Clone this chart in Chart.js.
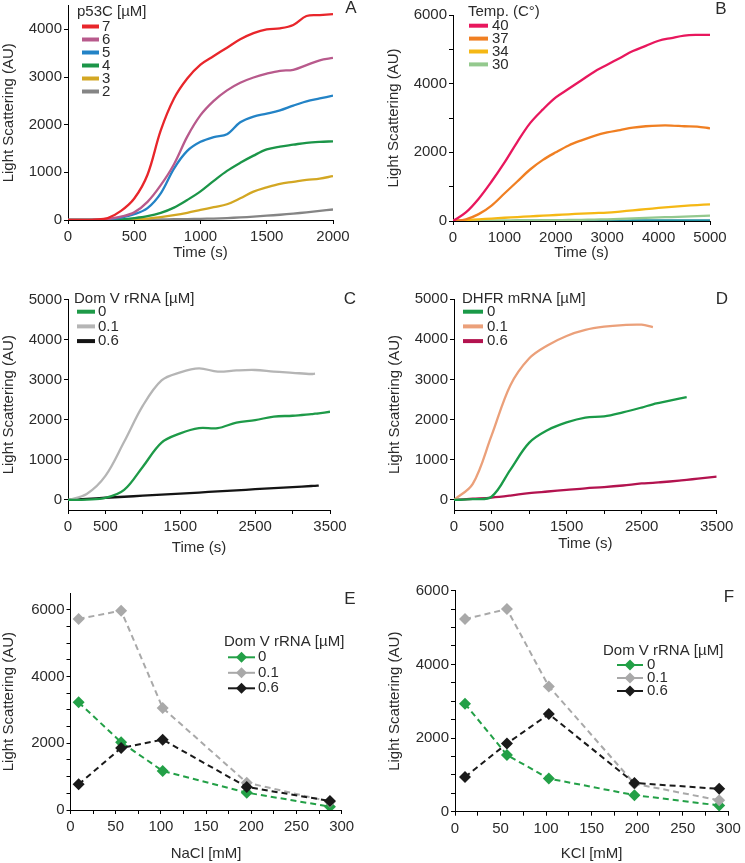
<!DOCTYPE html>
<html>
<head>
<meta charset="utf-8">
<script src="https://cdn.jsdelivr.net/npm/chart.js@4.4.0/dist/chart.umd.min.js"></script>
<style>
  html, body { margin: 0; padding: 0; background: #fff; }
  #fig { position: relative; width: 745px; height: 863px; overflow: hidden; background: #fff; }
  #fig canvas { position: absolute; }
</style>
</head>
<body>
<div id="fig">
  <canvas id="pA"></canvas>
  <canvas id="pB"></canvas>
  <canvas id="pC"></canvas>
  <canvas id="pD"></canvas>
  <canvas id="pE"></canvas>
  <canvas id="pF"></canvas>
</div>
<script>
// --- A: p53C concentration series ---
const aTime = [0,100,200,300,400,500,600,700,800,900,1000,1100,1200,1300,1400,1500,1600,1700,1800,1900,2000];
const aP7 = [0,0,10,40,190,450,950,1880,2550,2970,3260,3440,3615,3790,3920,4000,4020,4090,4280,4300,4320];
const aP6 = [0,0,5,20,70,160,380,730,1170,1750,2200,2500,2720,2880,2990,3070,3130,3150,3250,3350,3400];
const aP5 = [0,0,3,15,50,120,250,560,1080,1450,1640,1740,1800,2050,2170,2230,2300,2400,2490,2550,2610];
const aP4 = [0,0,2,5,15,40,80,150,260,420,600,820,1030,1200,1350,1480,1540,1580,1620,1640,1650];
const aP3 = [0,0,0,2,5,15,30,60,100,150,210,270,330,455,595,685,760,800,840,870,920];
const aP2 = [0,0,0,0,0,5,8,12,16,20,25,30,40,55,70,90,110,135,160,190,220];
const aXTicks = [0,500,1000,1500,2000];
const aYTicks = [0,1000,2000,3000,4000];

// --- B: temperature series ---
const bTime = [0,250,500,750,1000,1250,1500,1750,2000,2250,2500,2750,3000,3250,3500,3750,4000,4250,4500,4750,5000];
const bT40 = [0,250,650,1150,1700,2300,2850,3250,3600,3850,4100,4350,4550,4750,4950,5100,5250,5330,5400,5420,5420];
const bT37 = [0,50,200,450,800,1150,1500,1780,2000,2200,2350,2480,2580,2650,2720,2760,2780,2780,2760,2750,2700];
const bT34 = [0,25,50,70,95,115,135,155,175,195,215,230,245,275,310,345,380,410,440,465,485];
const bT30 = [0,5,8,10,12,15,18,22,26,30,35,40,50,60,75,90,105,115,125,140,155];
const bBase = [0,3,5,5,6,7,8,9,10,10,11,12,13,13,14,15,16,16,17,18,18];
const bXTicks = [0,500,1000,1500,2000,2500,3000,3500,4000,4500,5000];
const bXLabels = [0,1000,2000,3000,4000,5000];
const bYTicks = [0,1000,2000,3000,4000,5000,6000];
const bYLabels = [0,2000,4000,6000];

// --- C: Dom V rRNA ---
const cTime = [0,250,500,750,1000,1250,1500,1750,2000,2250,2500,2750,3000,3250,3300,3350,3500];
const cR0  = [0,10,50,250,830,1430,1660,1790,1790,1930,1990,2080,2100,2140,2150,2160,2200];
const cR01 = [0,150,600,1450,2350,2980,3180,3280,3200,3230,3240,3200,3170,3140,3150,null,null];
const cR06 = [0,27,55,80,107,135,160,185,215,240,268,295,320,348,352,358,null];

// --- D: DHFR mRNA ---
const dTime = [0,250,500,750,1000,1250,1500,1750,2000,2250,2500,2650,2750,3000,3100,3250,3500];
const dR0  = [0,20,80,750,1420,1740,1930,2050,2080,2180,2300,2380,2420,2520,2560,null,null];
const dR01 = [0,400,1600,2850,3520,3850,4080,4230,4310,4350,4360,4300,null,null,null,null,null];
const dR06 = [0,30,60,110,170,210,250,290,320,360,410,425,440,480,500,530,580];
const cdXTicks = [0,500,1000,1500,2000,2500,3000,3500];
const cdXLabels = [0,500,1500,2500,3500];
const cdYTicks = [0,1000,2000,3000,4000,5000];

// --- E: NaCl ---
const eSalt = [9,56,102,195,287];
const eR0  = [3230,2030,1170,520,100];
const eR01 = [5730,5980,3060,820,250];
const eR06 = [770,1860,2110,690,270];

// --- F: KCl ---
const fSalt = [11,57,103,197,290];
const fR0  = [2930,1540,900,450,170];
const fR01 = [5230,5500,3400,760,310];
const fR06 = [940,1850,2650,780,620];
const efXTicks = [0,25,50,75,100,125,150,175,200,225,250,275,300];
const efXLabels = [0,50,100,150,200,250,300];
const efYTicks = [0,500,1000,1500,2000,2500,3000,3500,4000,4500,5000,5500,6000];
const efYLabels = [0,2000,4000,6000];

const FONT = '"Liberation Sans", Arial, Helvetica, sans-serif';
const INK = '#2b2b2b';

const pts = (xs, ys) => xs.map((x, i) => ({ x: x, y: ys[i] }));

const trace = (label, color, xs, ys) => ({
    label: label,
    data: pts(xs, ys),
    borderColor: color,
    backgroundColor: color,
    borderWidth: 2.3,
    pointRadius: 0,
    tension: 0.35,
    spanGaps: false
});

const dashed = (label, color, xs, ys, order) => ({
    label: label,
    data: pts(xs, ys),
    borderColor: color,
    backgroundColor: color,
    borderWidth: 2,
    borderDash: [6, 4],
    pointStyle: 'rectRot',
    pointRadius: 6,
    pointBorderWidth: 0,
    pointBackgroundColor: color,
    order: order
});

const axis = (pos, a, size) => ({
    type: 'linear',
    position: pos,
    min: a.min,
    max: a.max,
    border: { display: true, color: '#000', width: 1 },
    grid: { display: true, drawOnChartArea: false, drawTicks: true, tickLength: 4, color: '#000', lineWidth: 1 },
    ticks: {
        autoSkip: false,
        maxRotation: 0,
        padding: pos === 'left' ? 2 : 4,
        color: INK,
        font: { family: FONT, size: 15 },
        callback: (v) => (a.labels || a.ticks).includes(v) ? String(v) : ''
    },
    title: { display: true, text: a.title, color: INK, font: { family: FONT, size: 15 }, padding: 0 },
    afterBuildTicks: (ax) => { ax.ticks = a.ticks.map(v => ({ value: v })); },
    afterFit: (ax) => {
        if (pos === 'left') ax.width = size; else ax.height = size;
        ax.paddingTop = 0; ax.paddingBottom = 0; ax.paddingLeft = 0; ax.paddingRight = 0;
    }
});

// legend + panel letter, drawn on top of each panel
const panelDeco = {
    id: 'panelDeco',
    afterDraw(chart, args, o) {
        const ctx = chart.ctx;
        const lg = o.legend;
        ctx.save();
        ctx.translate(-o.left, -o.top);
        ctx.fillStyle = INK;
        ctx.textBaseline = 'middle';
        ctx.textAlign = 'left';
        ctx.font = '15px ' + FONT;
        ctx.fillText(lg.title, lg.x, lg.y);
        let row = 0;
        chart.data.datasets.forEach((ds) => {
            if (!ds.label) return;
            const y = lg.rowStart + row * lg.row;
            ctx.strokeStyle = ds.borderColor;
            ctx.lineWidth = lg.markers ? 2 : 4;
            ctx.beginPath();
            ctx.moveTo(lg.x0, y);
            ctx.lineTo(lg.x1, y);
            ctx.stroke();
            if (lg.markers) {
                const cx = (lg.x0 + lg.x1) / 2;
                ctx.fillStyle = ds.borderColor;
                ctx.beginPath();
                ctx.moveTo(cx, y - 5.5);
                ctx.lineTo(cx + 5.5, y);
                ctx.lineTo(cx, y + 5.5);
                ctx.lineTo(cx - 5.5, y);
                ctx.closePath();
                ctx.fill();
            }
            ctx.fillStyle = INK;
            ctx.fillText(ds.label, lg.tx, y);
            row++;
        });
        ctx.font = '17px ' + FONT;
        ctx.textAlign = 'center';
        ctx.fillText(o.letter.text, o.letter.x, o.letter.y);
        ctx.restore();
    }
};

const makePanel = (p) => {
    const cv = document.getElementById(p.id);
    cv.width = p.width;
    cv.height = p.height;
    cv.style.left = p.left + 'px';
    cv.style.top = p.top + 'px';
    return new Chart(cv, {
        type: 'line',
        data: { datasets: p.datasets },
        options: {
            responsive: false,
            animation: false,
            devicePixelRatio: 1,
            events: [],
            layout: { padding: p.pad },
            plugins: {
                legend: { display: false },
                tooltip: { enabled: false },
                panelDeco: { legend: p.legend, letter: p.letter, left: p.left, top: p.top }
            },
            scales: {
                x: axis('bottom', p.x, p.xHeight),
                y: axis('left', p.y, p.yWidth)
            }
        },
        plugins: [panelDeco]
    });
};

document.addEventListener('DOMContentLoaded', () => {
    makePanel({
        id: 'pA', left: 0, top: 0, width: 372, height: 262,
        pad: { left: 0, top: 5.5, right: 39, bottom: 0 }, yWidth: 68, xHeight: 42,
        x: { min: 0, max: 2000, ticks: aXTicks, title: 'Time (s)' },
        y: { min: 0, max: 4500, ticks: aYTicks, title: 'Light Scattering (AU)' },
        datasets: [
            trace('7', '#e8262b', aTime, aP7),
            trace('6', '#b85a8c', aTime, aP6),
            trace('5', '#2383c6', aTime, aP5),
            trace('4', '#1b9548', aTime, aP4),
            trace('3', '#d3a723', aTime, aP3),
            trace('2', '#858585', aTime, aP2)
        ],
        legend: { title: 'p53C [µM]', x: 77, y: 12, rowStart: 26.5, row: 13, x0: 82, x1: 99, tx: 102, markers: false },
        letter: { text: 'A', x: 351, y: 8 }
    });

    makePanel({
        id: 'pB', left: 385, top: 0, width: 360, height: 262,
        pad: { left: 0, top: 15, right: 35, bottom: 0 }, yWidth: 68, xHeight: 41,
        x: { min: 0, max: 5000, ticks: bXTicks, labels: bXLabels, title: 'Time (s)' },
        y: { min: 0, max: 6000, ticks: bYTicks, labels: bYLabels, title: 'Light Scattering (AU)' },
        datasets: [
            trace('40', '#e8175d', bTime, bT40),
            trace('37', '#f07f22', bTime, bT37),
            trace('34', '#f5b815', bTime, bT34),
            trace('30', '#94c98e', bTime, bT30),
            trace('', '#1f8fa0', bTime, bBase)
        ],
        legend: { title: 'Temp. (C°)', x: 468, y: 12, rowStart: 25.7, row: 12.9, x0: 469, x1: 488, tx: 492, markers: false },
        letter: { text: 'B', x: 721, y: 9 }
    });

    makePanel({
        id: 'pC', left: 0, top: 265, width: 372, height: 292,
        pad: { left: 0, top: 34.4, right: 42, bottom: 0 }, yWidth: 68, xHeight: 47,
        x: { min: 0, max: 3500, ticks: cdXTicks, labels: cdXLabels, title: 'Time (s)' },
        y: { min: -250, max: 5000, ticks: cdYTicks, title: 'Light Scattering (AU)' },
        datasets: [
            trace('0', '#1e9a48', cTime, cR0),
            trace('0.1', '#b5b5b5', cTime, cR01),
            trace('0.6', '#141414', cTime, cR06)
        ],
        legend: { title: 'Dom V rRNA [µM]', x: 74, y: 299.3, rowStart: 311.7, row: 14.7, x0: 77, x1: 95, tx: 98, markers: false },
        letter: { text: 'C', x: 350, y: 299 }
    });

    makePanel({
        id: 'pD', left: 386, top: 265, width: 359, height: 288,
        pad: { left: 0, top: 34, right: 28.3, bottom: 0 }, yWidth: 68, xHeight: 43,
        x: { min: 0, max: 3500, ticks: cdXTicks, labels: cdXLabels, title: 'Time (s)' },
        y: { min: -250, max: 5000, ticks: cdYTicks, title: 'Light Scattering (AU)' },
        datasets: [
            trace('0', '#1a9a48', dTime, dR0),
            trace('0.1', '#eba07a', dTime, dR01),
            trace('0.6', '#b3134f', dTime, dR06)
        ],
        legend: { title: 'DHFR mRNA [µM]', x: 462, y: 299, rowStart: 311.7, row: 14.7, x0: 463, x1: 483, tx: 487, markers: false },
        letter: { text: 'D', x: 722, y: 299 }
    });

    makePanel({
        id: 'pE', left: 0, top: 560, width: 372, height: 303,
        pad: { left: 0, top: 33.3, right: 30.3, bottom: 0 }, yWidth: 70.5, xHeight: 53,
        x: { min: 0, max: 300, ticks: efXTicks, labels: efXLabels, title: 'NaCl [mM]' },
        y: { min: 0, max: 6500, ticks: efYTicks, labels: efYLabels, title: 'Light Scattering (AU)' },
        datasets: [
            dashed('0', '#23a047', eSalt, eR0, 3),
            dashed('0.1', '#a9a9a9', eSalt, eR01, 2),
            dashed('0.6', '#1a1a1a', eSalt, eR06, 1)
        ],
        legend: { title: 'Dom V rRNA [µM]', x: 224, y: 641.7, rowStart: 657.3, row: 15.5, x0: 228, x1: 255, tx: 258, markers: true },
        letter: { text: 'E', x: 350, y: 599 }
    });

    makePanel({
        id: 'pF', left: 386, top: 560, width: 359, height: 303,
        pad: { left: 0, top: 30.7, right: 16.7, bottom: 0 }, yWidth: 69, xHeight: 51.3,
        x: { min: 0, max: 300, ticks: efXTicks, labels: efXLabels, title: 'KCl [mM]' },
        y: { min: 0, max: 6000, ticks: efYTicks, labels: efYLabels, title: 'Light Scattering (AU)' },
        datasets: [
            dashed('0', '#23a047', fSalt, fR0, 3),
            dashed('0.1', '#a9a9a9', fSalt, fR01, 2),
            dashed('0.6', '#1a1a1a', fSalt, fR06, 1)
        ],
        legend: { title: 'Dom V rRNA [µM]', x: 603, y: 651, rowStart: 665, row: 13, x0: 617, x1: 643, tx: 647, markers: true },
        letter: { text: 'F', x: 729, y: 597 }
    });
});
</script>
</body>
</html>
